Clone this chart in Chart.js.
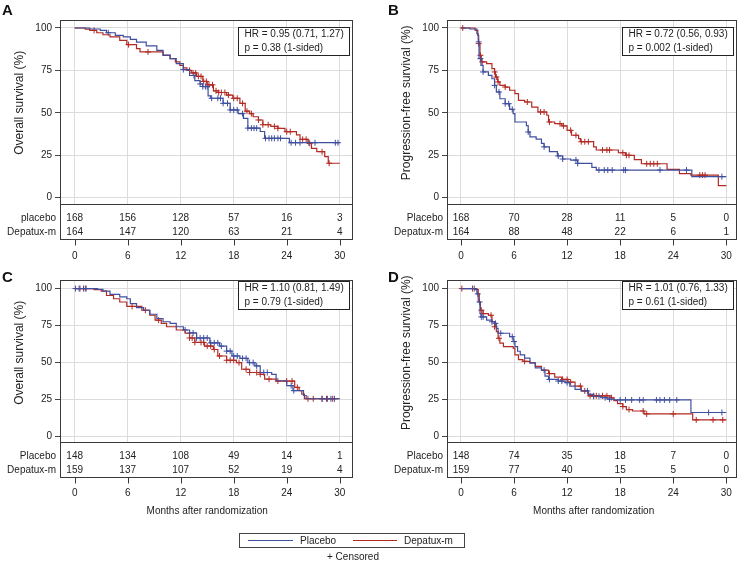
<!DOCTYPE html>
<html><head><meta charset="utf-8">
<script src="https://cdn.jsdelivr.net/npm/chart.js@4.4.1/dist/chart.umd.min.js"></script>
<style>
body{margin:0;background:#fff;width:742px;height:563px;position:relative;overflow:hidden;font-family:'Liberation Sans',Arial,sans-serif;color:#222;}
canvas{position:absolute;}
.lab{position:absolute;font-weight:bold;font-size:15px;color:#111;line-height:15px;}
#legend{position:absolute;left:239px;top:533px;width:224px;height:13px;border:1px solid #444;font-size:10px;}
#legend .ln{position:absolute;top:6px;height:0;border-top:1px solid;}
#legend .tx{position:absolute;top:0;line-height:13px;}
#cens{position:absolute;left:253px;width:200px;top:551px;text-align:center;font-size:10px;line-height:12px;}
</style></head><body>
<canvas id="cA" width="371" height="275" style="left:0;top:0"></canvas>
<canvas id="cB" width="371" height="275" style="left:371px;top:0"></canvas>
<canvas id="cC" width="371" height="288" style="left:0;top:275px"></canvas>
<canvas id="cD" width="371" height="288" style="left:371px;top:275px"></canvas>
<div class="lab" style="left:2px;top:2px">A</div>
<div class="lab" style="left:388px;top:2px">B</div>
<div class="lab" style="left:2px;top:269px">C</div>
<div class="lab" style="left:388px;top:269px">D</div>
<div id="legend">
  <div class="ln" style="left:8px;width:45px;border-color:#3f4fa0"></div>
  <div class="tx" style="left:60px">Placebo</div>
  <div class="ln" style="left:113px;width:44px;border-color:#b22a23"></div>
  <div class="tx" style="left:164px">Depatux-m</div>
</div>
<div id="cens">+ Censored</div>
<script>
// ---------- shared ticks ----------
const monthTicks = [0, 6, 12, 18, 24, 30];
const pctTicks = [0, 25, 50, 75, 100];
const seriesNames = ['Placebo', 'Depatux-m'];

// ---------- Panel A: overall survival ----------
const osPlaceboA = [[0,100],[1.7,99.4],[2.9,98.6],[3.6,97.2],[4.6,95.7],[5.5,94.7],[6.3,93.3],[7.0,91.7],[8.1,89.4],[9.3,86.8],[10.0,84],[10.8,82],[11.5,79],[12.3,75.5],[13.0,72],[13.6,69],[14.2,67],[14.5,65.5],[15.1,60],[15.4,58.6],[16.8,55.6],[17.6,51.7],[18.5,49.5],[19.1,46.8],[19.6,41],[21.0,39],[21.5,35],[24.3,32.4],[30,32.4]];
const osDepatuxA = [[0,100],[1.2,99.3],[1.7,98.6],[2.5,97.2],[3.2,96],[4.0,94.7],[5.1,92.7],[5.9,90.2],[7.0,87.8],[7.4,85.9],[10.0,83.9],[10.8,81.9],[11.4,80],[11.9,78],[12.3,76.5],[12.7,75],[13.2,73.5],[13.8,71.5],[14.5,68.5],[15.0,66.5],[15.7,63],[16.3,62],[17.2,60.5],[17.9,58.6],[18.7,55.6],[19.3,51],[19.8,49.5],[20.2,47.7],[20.8,45.8],[21.3,43],[22.2,42],[23.0,40.9],[23.8,38.9],[25.1,37],[25.5,34.4],[26.4,32],[26.8,29.1],[27.4,27.1],[28.3,24.2],[28.7,20.3],[30,20.3]];
const censPlaceboA = [3.8,12.3,13.5,14.2,14.5,14.8,15.0,15.5,16.2,16.5,16.8,17.3,17.6,18.0,18.4,19.0,19.6,20.0,20.3,20.6,21.6,22.0,22.3,22.6,23.0,23.3,24.5,25.0,25.5,26.5,27.2,29.5,29.8];
const censDepatuxA = [2.2,6.1,8.3,13.0,13.4,13.7,14.0,14.3,14.6,14.9,15.2,15.6,16.0,16.3,16.6,17.0,17.4,18.0,18.4,19.0,19.5,20.0,20.8,21.3,21.9,22.6,23.0,24.0,24.4,25.8,26.2,26.6,28.0,28.8];
const riskPlaceboA = [168, 156, 128, 57, 16, 3];
const riskDepatuxA = [164, 147, 120, 63, 21, 4];

// ---------- Panel B: progression-free survival ----------
const pfsPlaceboB = [[0,100],[1.0,99.4],[1.8,96.6],[1.95,91.8],[2.04,82],[2.26,78],[2.5,74.1],[3.1,72.1],[3.5,70.1],[3.8,66.2],[4.0,62.3],[4.4,58.3],[5.0,55.4],[5.5,52.1],[5.9,49.5],[6.1,44.6],[7.4,42.5],[7.6,38.7],[7.8,35.8],[8.5,34.5],[9.1,32],[9.4,30],[10.0,27.1],[10.9,24.6],[11.5,22.8],[12.4,22.2],[13.2,20.2],[14.8,17.9],[15.3,16.3],[26.1,12.4],[30,12.4]];
const pfsDepatuxB = [[0,100],[1.6,98.6],[1.9,95.7],[2.0,90.8],[2.15,83.9],[2.3,80],[2.9,79],[3.5,76],[3.8,74.1],[3.9,71.1],[4.15,68.2],[4.4,66.2],[5.0,65.2],[5.5,63.3],[6.1,61.3],[6.5,57.4],[7.2,56.4],[8.0,53.4],[8.7,50.5],[9.7,48.6],[9.9,44.6],[10.6,43.6],[11.4,42.3],[12.0,39.7],[12.5,36.8],[13.3,34.8],[13.5,33],[15.0,30],[15.3,28.1],[17.8,26.5],[18.6,25],[19.6,22.5],[20.4,20],[23.3,16.7],[24.7,14.2],[26.0,13.3],[29.1,7.1],[30,7.1]];
const censPlaceboB = [2.0,2.2,2.5,3.8,4.3,5.0,5.4,5.8,7.6,9.4,11.0,11.5,13.0,13.2,15.6,16.2,16.6,17.1,18.4,18.6,22.5,25.5,29.5];
const censDepatuxB = [0.2,2.0,2.2,2.4,3.8,4.0,4.2,5.0,7.5,9.0,9.4,10.0,11.2,11.6,12.4,13.0,13.6,14.0,14.4,16.0,16.5,16.8,18.3,18.7,19.0,21.0,21.4,21.8,22.2,27.0,27.3,27.6];
const riskPlaceboB = [168, 70, 28, 11, 5, 0];
const riskDepatuxB = [164, 88, 48, 22, 6, 1];

// ---------- Panel C: overall survival ----------
const osPlaceboC = [[0,100],[2.6,99.5],[3.2,98.3],[4.0,96],[5.1,94.3],[5.9,93.1],[6.3,89.8],[7.0,87.1],[7.8,85.3],[8.5,82.6],[9.3,79.7],[10.0,77.5],[10.8,76.4],[11.5,74.1],[12.3,71.9],[13.0,69.9],[13.8,66.5],[15.3,63.2],[16.4,61],[17.2,57.6],[17.8,54.3],[18.7,52.7],[19.6,49.8],[20.4,47.6],[21.0,43.1],[22.3,41.9],[22.8,37.5],[24.0,34.2],[24.7,30.8],[25.9,27.5],[26.2,25.3],[30,25.3]];
const osDepatuxC = [[0,100],[2.2,99.3],[3.0,98.3],[3.6,95.3],[4.4,93.1],[5.1,90.9],[5.9,87.9],[7.6,85.3],[8.5,81.9],[9.1,78.6],[9.8,76.4],[10.4,74.1],[11.5,71.9],[12.5,69.7],[13.0,66.5],[13.6,63.5],[14.7,61],[15.7,58.7],[16.2,54.3],[17.2,51.4],[18.3,49.8],[18.9,45.3],[19.8,43.1],[21.0,41.9],[21.5,38.6],[22.8,37.3],[24.9,33],[25.4,30.8],[25.7,28.5],[26.0,25.3],[30,25.3]];
const censPlaceboC = [0.1,0.5,1.0,1.3,12.5,13.0,13.4,13.8,14.2,14.6,15.0,15.4,15.8,16.2,16.6,17.2,17.6,18.0,18.4,19.0,19.4,19.8,20.2,20.6,21.4,21.8,24.5,24.8,28.0,28.5,29.0,29.4];
const censDepatuxC = [0.6,1.2,6.5,8.0,9.5,13.0,13.3,13.6,14.3,14.6,15.0,15.4,15.8,16.4,17.2,17.6,18.0,18.6,19.4,19.8,20.6,21.0,22.0,23.0,24.0,24.6,25.2,26.4,27.0,28.0,28.6,29.2];
const riskPlaceboC = [148, 134, 108, 49, 14, 1];
const riskDepatuxC = [159, 137, 107, 52, 19, 4];

// ---------- Panel D: progression-free survival ----------
const pfsPlaceboD = [[0,100],[1.6,99.3],[1.8,96.4],[1.95,90.9],[2.15,83],[2.26,80.8],[2.9,78.6],[3.5,77.5],[3.8,76.4],[4.0,73],[4.2,69.7],[5.5,67.4],[5.9,64.1],[6.1,60.7],[6.4,57.5],[6.7,55.1],[7.2,52.9],[7.8,49.6],[8.4,46.2],[9.1,44.7],[9.5,40.6],[9.9,38.4],[11.0,37.3],[11.8,36.2],[12.3,33.9],[12.9,31.7],[13.6,30.6],[14.4,28.3],[15.0,27],[15.8,26],[16.6,25],[17.3,24.5],[26.0,16],[30,16]];
const pfsDepatuxD = [[0,100],[1.8,99.3],[1.95,96.4],[2.07,90.9],[2.2,85.3],[2.5,83],[3.1,81.9],[3.5,77.5],[3.8,74.1],[4.0,70.8],[4.2,66.3],[4.4,63],[4.8,60.7],[5.9,59.6],[6.1,55.1],[6.5,51.8],[7.0,50.7],[7.8,49.6],[8.4,47.3],[9.1,44.7],[9.9,42.4],[10.6,40],[11.4,38.4],[12.1,36.6],[12.9,33.9],[13.6,30.6],[14.4,27.3],[17.0,26],[17.3,24],[17.7,22],[18.3,20],[18.7,18],[19.4,17],[20.7,15],[26.2,11],[30,11]];
const censPlaceboD = [1.5,1.9,2.1,2.3,2.5,3.5,3.9,4.5,5.8,6.0,9.4,10.0,11.0,11.4,12.0,14.3,15.0,15.6,16.3,16.8,18.0,18.6,19.3,20.2,20.6,22.1,22.5,23.0,23.6,24.4,28.0,29.5];
const censDepatuxD = [0.1,1.3,2.3,2.5,3.4,3.8,4.3,7.2,10.0,11.5,12.0,12.4,13.5,14.0,14.6,15.0,15.3,16.0,16.5,17.0,18.3,19.0,20.6,21.0,24.0,26.6,28.5,29.6];
const riskPlaceboD = [148, 74, 35, 18, 7, 0];
const riskDepatuxD = [159, 77, 40, 15, 5, 0];

// ---------- annotation texts ----------
const hrTextA = ['HR = 0.95 (0.71, 1.27)', 'p = 0.38 (1-sided)'];
const hrTextB = ['HR = 0.72 (0.56, 0.93)', 'p = 0.002 (1-sided)'];
const hrTextC = ['HR = 1.10 (0.81, 1.49)', 'p = 0.79 (1-sided)'];
const hrTextD = ['HR = 1.01 (0.76, 1.33)', 'p = 0.61 (1-sided)'];

// ---------- drawing ----------
const BLUE = '#3f4fa0', RED = '#b22a23';
const FONT = "'Liberation Sans', Arial, sans-serif";
Chart.defaults.font.family = FONT;
Chart.defaults.font.size = 10;
Chart.defaults.color = '#222';

const toXY = arr => arr.map(p => ({x: p[0], y: p[1]}));
function valueAt(curve, t) {
  let v = curve[0][1];
  for (const p of curve) { if (p[0] <= t) v = p[1]; else break; }
  return v;
}

const kmDecor = {
  id: 'kmDecor',
  afterDraw(chart) {
    const o = chart.options.plugins.kmDecor;
    const ctx = chart.ctx, ca = chart.chartArea, xs = chart.scales.x;
    const tableH = 35;
    ctx.save();
    ctx.strokeStyle = '#3a3a3a';
    ctx.lineWidth = 1;
    ctx.strokeRect(Math.round(ca.left) + 0.5, Math.round(ca.top) + 0.5,
                   Math.round(ca.right - ca.left) - 1, Math.round(ca.bottom - ca.top + tableH));
    ctx.beginPath();
    ctx.moveTo(ca.left, Math.round(ca.bottom) + 0.5);
    ctx.lineTo(ca.right, Math.round(ca.bottom) + 0.5);
    ctx.stroke();
    const tb = Math.round(ca.bottom + tableH) + 0.5;
    ctx.beginPath();
    monthTicks.forEach(t => {
      const px = Math.round(xs.getPixelForValue(t)) + 0.5;
      ctx.moveTo(px, tb); ctx.lineTo(px, tb + 6);
    });
    ctx.stroke();
    ctx.font = '10px ' + FONT;
    ctx.fillStyle = '#222';
    ctx.textBaseline = 'middle';
    o.rows.forEach((row, r) => {
      const y = ca.bottom + 14.5 + r * 14;
      ctx.textAlign = 'right';
      ctx.fillText(row.label, ca.left - 4, y);
      ctx.textAlign = 'center';
      row.values.forEach((v, i) => ctx.fillText(String(v), xs.getPixelForValue(monthTicks[i]), y));
    });
    const w = Math.max(...o.hr.map(s => ctx.measureText(s).width)) + 12;
    const bx = Math.round(ca.right - 4 - w) + 0.5, by = Math.round(ca.top + o.hrTop) + 0.5;
    ctx.fillStyle = '#fff';
    ctx.fillRect(bx, by, w, 28);
    ctx.strokeStyle = '#222';
    ctx.strokeRect(bx, by, Math.round(w), 28);
    ctx.fillStyle = '#222';
    ctx.textAlign = 'left';
    o.hr.forEach((s, i) => ctx.fillText(s, bx + 6, by + 7 + i * 14));
    ctx.save();
    ctx.font = '12px ' + FONT;
    ctx.translate(ca.left - 40, ca.top + 0.45 * (ca.bottom - ca.top));
    ctx.rotate(-Math.PI / 2);
    ctx.textAlign = 'center';
    ctx.fillText(o.yTitle, 0, 0);
    ctx.restore();
    if (o.xTitle) {
      ctx.font = '10px ' + FONT;
      ctx.textAlign = 'center';
      ctx.fillText(o.xTitle, (xs.getPixelForValue(0) + xs.getPixelForValue(30)) / 2, ca.bottom + 70);
    }
    ctx.restore();
  }
};

function makePanel(id, p) {
  const datasets = [
    {type: 'line', data: toXY(p.placebo), borderColor: BLUE, borderWidth: 1.2, pointRadius: 0, stepped: true, fill: false},
    {type: 'line', data: toXY(p.depatux), borderColor: RED, borderWidth: 1.2, pointRadius: 0, stepped: true, fill: false},
    {type: 'scatter', data: p.censP.map(t => ({x: t, y: valueAt(p.placebo, t)})), pointStyle: 'cross', pointRadius: 3, borderColor: BLUE, borderWidth: 1, showLine: false},
    {type: 'scatter', data: p.censD.map(t => ({x: t, y: valueAt(p.depatux, t)})), pointStyle: 'cross', pointRadius: 3, borderColor: RED, borderWidth: 1, showLine: false}
  ];
  new Chart(document.getElementById(id), {
    data: {datasets},
    options: {
      responsive: false, animation: false, devicePixelRatio: 1,
      layout: {padding: {left: 0, top: p.caTop, right: p.padRight, bottom: 0}},
      plugins: {
        legend: {display: false}, tooltip: {enabled: false},
        kmDecor: {rows: [{label: p.rowLabel0, values: p.riskP}, {label: seriesNames[1], values: p.riskD}],
                  hr: p.hr, hrTop: p.hrTop, yTitle: p.yTitle, xTitle: p.xTitle}
      },
      scales: {
        x: {
          type: 'linear', min: p.xMin, max: p.xMax,
          afterBuildTicks: s => { s.ticks = monthTicks.map(v => ({value: v})); },
          afterFit: s => { s.height = p.xH; s.paddingLeft = 0; s.paddingRight = 0; },
          grid: {color: '#dcdcdc', drawTicks: false},
          border: {display: false},
          ticks: {padding: 46, color: '#222', font: {size: 10}}
        },
        y: {
          type: 'linear', min: p.yMin, max: p.yMax,
          afterBuildTicks: s => { s.ticks = pctTicks.map(v => ({value: v})); },
          afterFit: s => { s.width = p.yW; s.paddingTop = 0; s.paddingBottom = 0; },
          grid: {color: '#dcdcdc', tickColor: '#444', tickLength: 5},
          border: {display: false},
          ticks: {padding: 3, color: '#222', font: {size: 10}}
        }
      }
    },
    plugins: [kmDecor]
  });
}

makePanel('cA', {placebo: osPlaceboA, depatux: osDepatuxA, censP: censPlaceboA, censD: censDepatuxA,
  riskP: riskPlaceboA, riskD: riskDepatuxA, rowLabel0: 'placebo', hr: hrTextA, hrTop: 7,
  yTitle: 'Overall survival (%)', xTitle: null,
  caTop: 20, padRight: 18, yW: 60, xH: 71, xMin: -1.66, xMax: 31.5, yMin: -3.7, yMax: 104.7});
makePanel('cB', {placebo: pfsPlaceboB, depatux: pfsDepatuxB, censP: censPlaceboB, censD: censDepatuxB,
  riskP: riskPlaceboB, riskD: riskDepatuxB, rowLabel0: seriesNames[0], hr: hrTextB, hrTop: 7,
  yTitle: 'Progression-free survival (%)', xTitle: null,
  caTop: 20, padRight: 5, yW: 76, xH: 71, xMin: -1.58, xMax: 31.21, yMin: -3.7, yMax: 104.7});
makePanel('cC', {placebo: osPlaceboC, depatux: osDepatuxC, censP: censPlaceboC, censD: censDepatuxC,
  riskP: riskPlaceboC, riskD: riskDepatuxC, rowLabel0: seriesNames[0], hr: hrTextC, hrTop: 1,
  yTitle: 'Overall survival (%)', xTitle: 'Months after randomization',
  caTop: 3, padRight: 18, yW: 60, xH: 121.3, xMin: -1.66, xMax: 31.5, yMin: -3.8, yMax: 105.8});
makePanel('cD', {placebo: pfsPlaceboD, depatux: pfsDepatuxD, censP: censPlaceboD, censD: censDepatuxD,
  riskP: riskPlaceboD, riskD: riskDepatuxD, rowLabel0: seriesNames[0], hr: hrTextD, hrTop: 1,
  yTitle: 'Progression-free survival (%)', xTitle: 'Months after randomization',
  caTop: 3, padRight: 5, yW: 76, xH: 121.3, xMin: -1.58, xMax: 31.21, yMin: -3.8, yMax: 105.8});
</script>
</body></html>
